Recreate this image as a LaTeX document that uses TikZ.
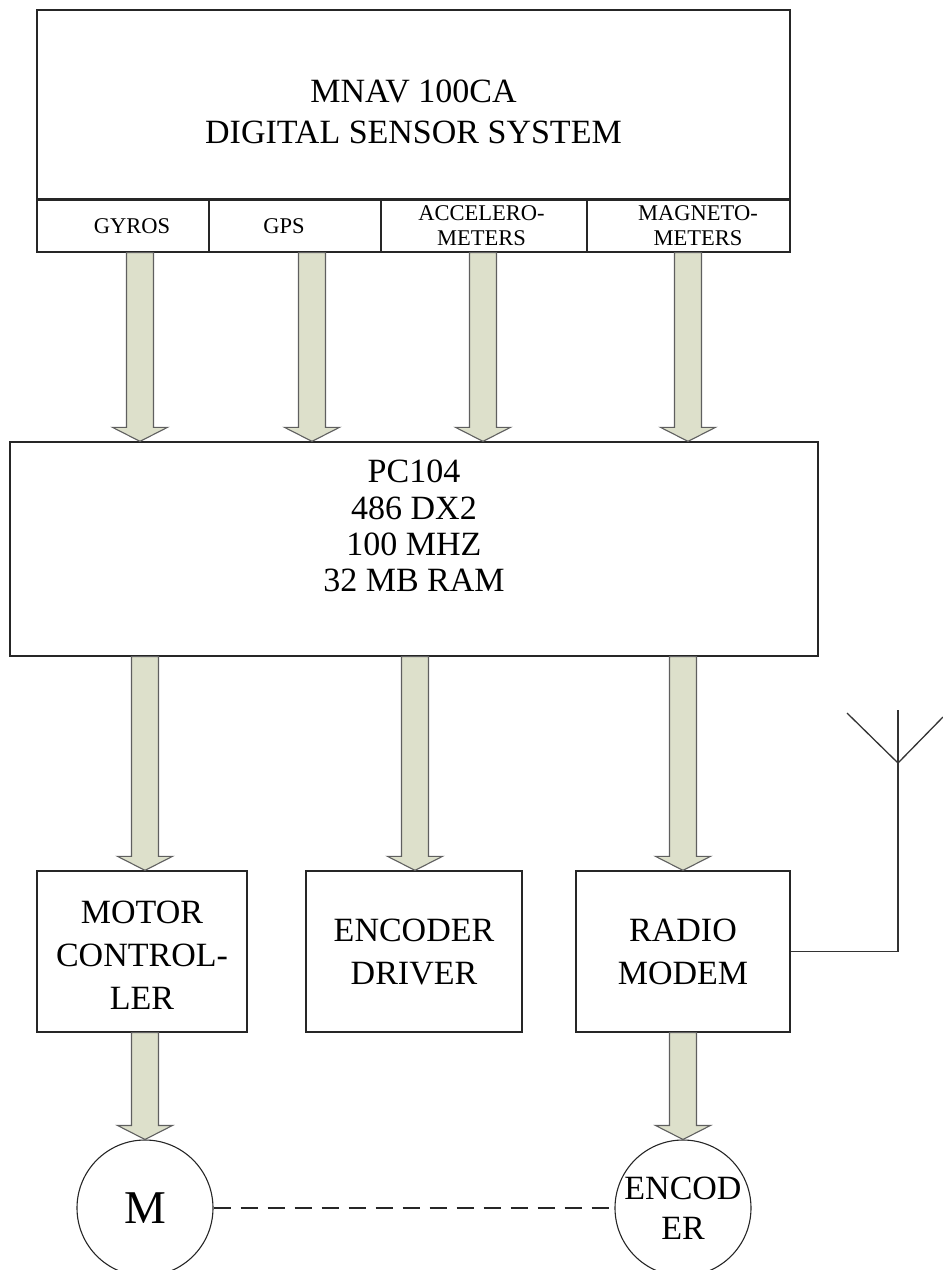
\documentclass[tikz,border=0pt]{standalone}
\usepackage{fontspec}
\setmainfont{Liberation Serif}
\usetikzlibrary{calc}
\definecolor{arrowfill}{RGB}{221,224,203}
\definecolor{arrowline}{RGB}{95,95,95}
\tikzset{
  box/.style={draw=black!85, line width=1.3pt, fill=white, inner sep=0pt, align=center},
  bigtxt/.style={font=\fontsize{34}{40.5}\selectfont, align=center, inner sep=0pt},
  smalltxt/.style={font=\fontsize{22.5}{25}\selectfont, align=center, inner sep=0pt},
  blockarrow/.style={fill=arrowfill, draw=arrowline, line width=1.1pt, line join=miter},
  wire/.style={draw=black!80, line width=1.3pt},
  dashline/.style={draw=black!85, line width=1.6pt, dash pattern=on 17pt off 10pt},
  motorcirc/.style={circle, draw=black!85, line width=1.1pt, minimum size=136pt, inner sep=0pt, align=center},
  lowtxt/.style={font=\fontsize{34}{43}\selectfont}
}
% #1 = x position, #2 = source node, #3 = target node
\newcommand{\fatarrow}[3]{%
  \path[blockarrow] let \p1=(#1,0 |- #2.south), \p2=(#1,0 |- #3.north) in
    (\x1-13.5pt,\y1) -- (\x1-13.5pt,\y2+14pt) -- (\x1-27.5pt,\y2+14pt) -- (\x1,\y2)
    -- (\x1+27.5pt,\y2+14pt) -- (\x1+13.5pt,\y2+14pt) -- (\x1+13.5pt,\y1) -- cycle;}

\begin{document}
\begin{tikzpicture}[x=1pt,y=-1pt]
\useasboundingbox (0,0) rectangle (943,1270);

% top system box
\node[box, minimum width=753pt, minimum height=242pt] (sys) at (413.5,131) {};
\node[bigtxt] (systxt) at (413.5,112) {MNAV 100CA\\DIGITAL SENSOR SYSTEM};

% sensor cells
\node[box, minimum width=172pt, minimum height=52pt] (gyros) at (123,226) {};
\node[box, minimum width=172pt, minimum height=52pt] (gps)   at (295,226) {};
\node[box, minimum width=206pt, minimum height=52pt] (acc)   at (484,226) {};
\node[box, minimum width=203pt, minimum height=52pt] (mag)   at (688.5,226) {};
\draw[draw=black!85, line width=2.2pt] (sys.west |- gyros.north) -- (sys.east |- mag.north);
\node[smalltxt] (tgyros) at (132,226.5) {GYROS};
\node[smalltxt] (tgps)   at (284,226.5) {GPS};
\node[smalltxt] (tacc)   at (481.5,226) {ACCELERO-\\METERS};
\node[smalltxt] (tmag)   at (698,226) {MAGNETO-\\METERS};

% processor
\node[box, minimum width=808pt, minimum height=214pt] (pc) at (414,549) {};
\node[bigtxt, font=\fontsize{34}{36.3}\selectfont] (pctxt) at (414,526) {PC104\\486 DX2\\100 MHZ\\32 MB RAM};

% lower boxes
\node[box, minimum width=210pt, minimum height=161pt] (motorc) at (142,951.5) {};
\node[bigtxt, lowtxt] (motortxt) at (142,955.5) {MOTOR\\CONTROL-\\LER};
\node[box, bigtxt, lowtxt, minimum width=216pt, minimum height=161pt] (encdrv) at (414,951.5) {ENCODER\\DRIVER};
\node[box, bigtxt, lowtxt, minimum width=214pt, minimum height=161pt] (radio)  at (683,951.5) {RADIO\\MODEM};

% motor and encoder
\node[motorcirc, font=\fontsize{47}{50}\selectfont] (motor) at (145,1208) {M};
\node[motorcirc, font=\fontsize{34}{40}\selectfont] (enc) at (683,1208) {ENCOD\\ER};

% block arrows
\fatarrow{140}{gyros}{pc}
\fatarrow{312}{gps}{pc}
\fatarrow{483}{acc}{pc}
\fatarrow{688}{mag}{pc}
\fatarrow{145}{pc}{motorc}
\fatarrow{415}{pc}{encdrv}
\fatarrow{683}{pc}{radio}
\fatarrow{145}{motorc}{motor}
\fatarrow{683}{radio}{enc}

% mechanical link
\draw[dashline] (motor.east) -- (enc.west);

% antenna
\coordinate (antfoot) at (898,951.5);
\coordinate (antjoint) at (898,763);
\coordinate (anttop) at (898,710);
\coordinate (antleft) at (847,713);
\coordinate (antright) at (943,717);
\draw[wire] (radio.east) -- (antfoot) -- (antjoint) -- (anttop);
\draw[wire] (antleft) -- (antjoint) -- (antright);
\end{tikzpicture}
\end{document}
